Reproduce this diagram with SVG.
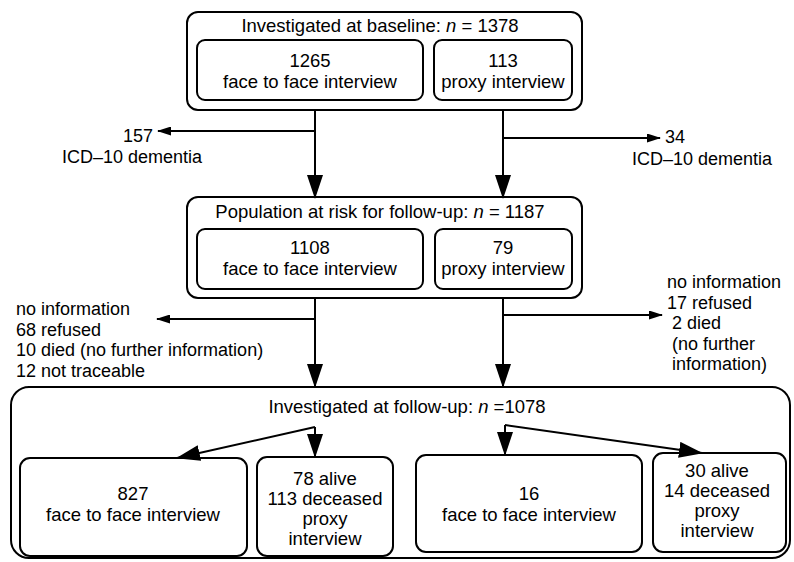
<svg xmlns="http://www.w3.org/2000/svg" width="794" height="562" viewBox="0 0 794 562">
<defs>
<style>
.box{fill:#fff;stroke:#000;stroke-width:2}
.t{font-family:"Liberation Sans",Arial,Helvetica,sans-serif;font-size:18.5px;fill:#000;text-anchor:middle}
.s{font-family:"Liberation Sans",Arial,Helvetica,sans-serif;font-size:18px;fill:#000}
.ln{fill:none;stroke:#000;stroke-width:2}
.big{marker-end:url(#ab)}
.sm{marker-end:url(#as)}
</style>
<marker id="ab" markerUnits="userSpaceOnUse" viewBox="0 0 24 16" markerWidth="24" markerHeight="16" refX="23" refY="8" orient="auto"><path d="M0,0 L24,8 L0,16 z" fill="#000"/></marker>
<marker id="as" markerUnits="userSpaceOnUse" viewBox="0 0 14 9" markerWidth="14" markerHeight="9" refX="13" refY="4.5" orient="auto"><path d="M0,0 L14,4.5 L0,9 z" fill="#000"/></marker>
</defs>
<rect width="794" height="562" fill="#fff"/>

<g id="baseline">
<rect class="box" x="187" y="12" width="395" height="98" rx="11"/>
<text class="t" x="380" y="32">Investigated at baseline: <tspan font-style="italic">n</tspan> = 1378</text>
</g>
<g id="baseline-f2f">
<rect class="box" x="197" y="40" width="226" height="60" rx="8"/>
<text class="t" x="310" y="67">1265</text>
<text class="t" x="310" y="88">face to face interview</text>
</g>
<g id="baseline-proxy">
<rect class="box" x="434" y="40" width="138" height="60" rx="8"/>
<text class="t" x="503" y="67">113</text>
<text class="t" x="503" y="88">proxy interview</text>
</g>

<g id="risk">
<rect class="box" x="187" y="197" width="395" height="101" rx="11"/>
<text class="t" x="380" y="218">Population at risk for follow-up: <tspan font-style="italic">n</tspan> = 1187</text>
</g>
<g id="risk-f2f">
<rect class="box" x="197" y="229" width="226" height="60" rx="8"/>
<text class="t" x="310" y="254">1108</text>
<text class="t" x="310" y="275">face to face interview</text>
</g>
<g id="risk-proxy">
<rect class="box" x="435" y="229" width="137" height="60" rx="8"/>
<text class="t" x="503" y="254">79</text>
<text class="t" x="503" y="275">proxy interview</text>
</g>

<g id="followup">
<rect class="box" x="11" y="387" width="779" height="171" rx="18"/>
<text class="t" x="407" y="413">Investigated at follow-up: <tspan font-style="italic">n</tspan> =1078</text>
</g>
<g id="fu-f2f-left">
<rect class="box" x="20" y="458" width="227" height="98" rx="10"/>
<text class="t" x="133" y="500">827</text>
<text class="t" x="133" y="521">face to face interview</text>
</g>
<g id="fu-proxy-left">
<rect class="box" x="257" y="457" width="136" height="99" rx="10"/>
<text class="t" x="325" y="485">78 alive</text>
<text class="t" x="325" y="505">113 deceased</text>
<text class="t" x="325" y="525">proxy</text>
<text class="t" x="325" y="545">interview</text>
</g>
<g id="fu-f2f-right">
<rect class="box" x="416" y="455" width="226" height="97" rx="10"/>
<text class="t" x="529" y="500">16</text>
<text class="t" x="529" y="521">face to face interview</text>
</g>
<g id="fu-proxy-right">
<rect class="box" x="653" y="453" width="133" height="99" rx="10"/>
<text class="t" x="717" y="477">30 alive</text>
<text class="t" x="717" y="497">14 deceased</text>
<text class="t" x="717" y="517">proxy</text>
<text class="t" x="717" y="537">interview</text>
</g>

<g id="excluded-dementia-left">
<text class="s" x="123" y="142">157</text>
<text class="s" x="62" y="163">ICD–10 dementia</text>
</g>
<g id="excluded-dementia-right">
<text class="s" x="665" y="143">34</text>
<text class="s" x="632" y="165">ICD–10 dementia</text>
</g>
<g id="lost-left">
<text class="s" x="16" y="315">no information</text>
<text class="s" x="16" y="336">68 refused</text>
<text class="s" x="16" y="356">10 died (no further information)</text>
<text class="s" x="16" y="377">12 not traceable</text>
</g>
<g id="lost-right">
<text class="s" x="667" y="288">no information</text>
<text class="s" x="667" y="309">17 refused</text>
<text class="s" x="672" y="329">2 died</text>
<text class="s" x="672" y="350">(no further</text>
<text class="s" x="672" y="370">information)</text>
</g>

<g id="connectors">
<path class="ln big" d="M315,110 V198"/>
<path class="ln sm" d="M315,131 H158"/>
<path class="ln big" d="M503,110 V198"/>
<path class="ln sm" d="M503,138 H660"/>
<path class="ln big" d="M315,298 V387"/>
<path class="ln sm" d="M315,319 H157"/>
<path class="ln big" d="M503,298 V387"/>
<path class="ln sm" d="M503,315 H662"/>
<path class="ln big" d="M315,427 L177,458"/>
<path class="ln big" d="M315,427 V457"/>
<path class="ln big" d="M505,425 V455"/>
<path class="ln big" d="M505,425 L702,453"/>
</g>
</svg>
